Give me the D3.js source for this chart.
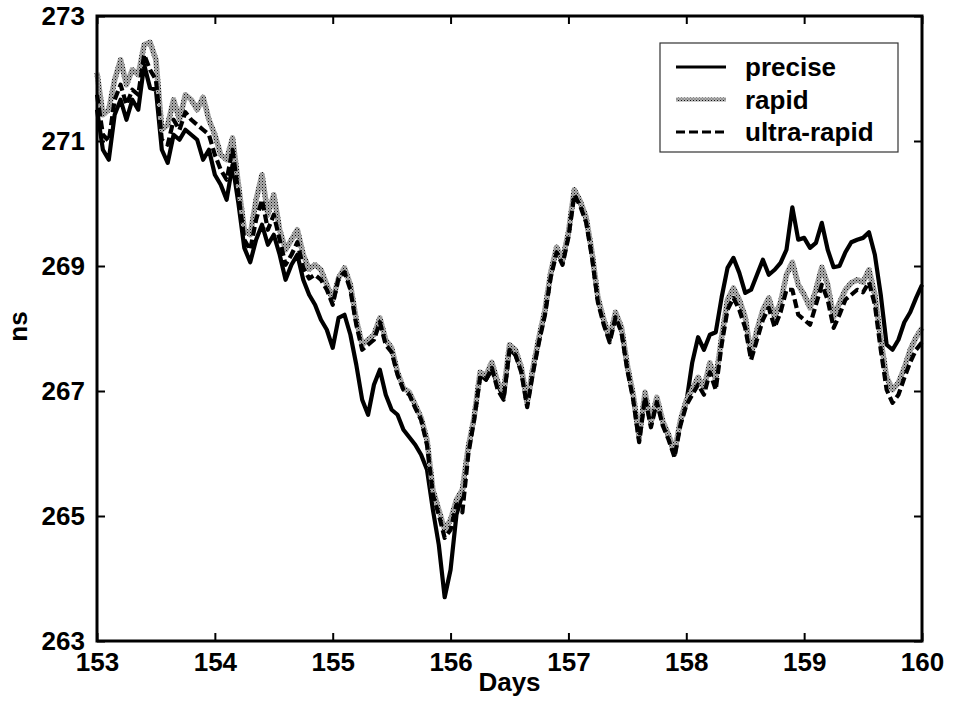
<!DOCTYPE html>
<html>
<head>
<meta charset="utf-8">
<script src="https://cdn.jsdelivr.net/npm/d3@7"></script>
<style>
     body { margin: 0; background: #fff; }
     svg { display: block; font-family: 'Liberation Sans', Arial, sans-serif; font-weight: bold; }
</style>
</head>
<body>
<svg id="clockSvg" width="954" height="701"></svg>
<script>
// sampling grid: one value every 0.05 day from day 153
var dayStart = 153, dayStep = 0.05;

var precise = [
     271.50, 270.86, 270.70, 271.42, 271.66, 271.34, 271.66, 271.50, 272.22, 271.85,
     271.82, 270.86, 270.65, 271.10, 271.02, 271.18, 271.10, 271.02, 270.70, 270.86,
     270.46, 270.30, 270.06, 270.62, 270.00, 269.29, 269.06, 269.42, 269.66, 269.34,
     269.50, 269.18, 268.78, 269.02, 269.18, 268.78, 268.54, 268.38, 268.14, 267.98,
     267.69, 268.17, 268.22, 267.90, 267.42, 266.86, 266.62, 267.10, 267.34, 266.94,
     266.70, 266.62, 266.38, 266.26, 266.14, 265.98, 265.74, 265.10, 264.54, 263.70,
     264.14, 265.02, 265.34, 266.06, 266.57, 267.26, 267.18, 267.34, 267.10, 266.90,
     267.66, 267.58, 267.34, 266.78, 267.34, 267.82, 268.25, 268.86, 269.26, 269.06,
     269.50, 270.18, 270.00, 269.74, 269.18, 268.46, 268.10, 267.82, 268.22, 267.98,
     267.37, 266.90, 266.22, 266.94, 266.46, 266.86, 266.49, 266.26, 265.98, 266.49,
     266.81, 267.45, 267.86, 267.66, 267.90, 267.94, 268.50, 268.97, 269.13, 268.89,
     268.57, 268.62, 268.86, 269.10, 268.86, 268.94, 269.05, 269.26, 269.94, 269.42,
     269.45, 269.29, 269.37, 269.69, 269.26, 268.98, 269.00, 269.22, 269.38, 269.42,
     269.45, 269.54, 269.18, 268.54, 267.74, 267.66, 267.82, 268.10, 268.26, 268.49,
     268.70
];

var rapid = [
     272.09, 271.42, 271.50, 271.98, 272.30, 271.90, 272.14, 272.06, 272.54, 272.58,
     272.30, 271.18, 271.26, 271.66, 271.34, 271.74, 271.66, 271.50, 271.70, 271.34,
     271.10, 270.78, 270.70, 271.05, 270.30, 269.58, 269.50, 270.06, 270.46, 269.82,
     270.14, 269.58, 269.26, 269.42, 269.58, 269.18, 268.95, 269.02, 268.94, 268.70,
     268.46, 268.81, 268.97, 268.70, 268.14, 267.74, 267.82, 267.90, 268.17, 267.82,
     267.69, 267.30, 267.05, 266.98, 266.78, 266.57, 266.22, 265.42, 265.10, 264.78,
     264.94, 265.26, 265.42, 266.10, 266.58, 267.30, 267.25, 267.46, 267.14, 266.98,
     267.74, 267.66, 267.38, 266.82, 267.38, 267.86, 268.29, 268.90, 269.30, 269.10,
     269.54, 270.22, 270.04, 269.78, 269.22, 268.50, 268.14, 267.86, 268.26, 268.02,
     267.41, 266.94, 266.26, 266.98, 266.50, 266.90, 266.52, 266.30, 266.02, 266.53,
     266.85, 267.02, 267.22, 267.05, 267.45, 267.18, 267.86, 268.46, 268.65, 268.46,
     268.18, 267.58, 267.98, 268.30, 268.49, 268.18, 268.42, 268.86, 269.06, 268.70,
     268.54, 268.33, 268.62, 268.98, 268.70, 268.18, 268.41, 268.62, 268.73, 268.78,
     268.74, 268.94, 268.54, 267.82, 267.22, 267.02, 267.13, 267.37, 267.66, 267.86,
     268.01
];

var ultraRapid = [
     271.74, 271.10, 271.00, 271.66, 271.90, 271.58, 271.82, 271.74, 272.38, 272.14,
     271.98, 271.02, 270.94, 271.34, 271.18, 271.46, 271.34, 271.26, 271.18, 271.10,
     270.78, 270.54, 270.38, 270.86, 270.15, 269.42, 269.26, 269.74, 270.06, 269.58,
     269.82, 269.42, 269.02, 269.18, 269.38, 268.97, 268.80, 268.86, 268.78, 268.62,
     268.38, 268.81, 268.90, 268.62, 268.06, 267.66, 267.74, 267.82, 268.10, 267.74,
     267.62, 267.26, 267.02, 266.94, 266.73, 266.54, 266.14, 265.34, 265.02, 264.65,
     264.78, 265.18, 265.06, 265.98, 266.54, 267.21, 267.18, 267.37, 267.02, 266.86,
     267.66, 267.58, 267.30, 266.74, 267.30, 267.78, 268.21, 268.82, 269.22, 269.02,
     269.46, 270.14, 269.96, 269.70, 269.14, 268.42, 268.06, 267.78, 268.18, 267.94,
     267.33, 266.86, 266.18, 266.90, 266.42, 266.82, 266.45, 266.22, 265.94, 266.45,
     266.77, 266.94, 267.10, 266.94, 267.30, 267.02, 267.74, 268.30, 268.49, 268.30,
     268.01, 267.50, 267.82, 268.14, 268.33, 268.02, 268.26, 268.62, 268.62, 268.22,
     268.14, 268.06, 268.38, 268.70, 268.46, 268.01, 268.22, 268.46, 268.54, 268.62,
     268.58, 268.74, 268.38, 267.66, 267.02, 266.81, 266.94, 267.21, 267.46, 267.66,
     267.78
];

var xTicks = [153, 154, 155, 156, 157, 158, 159, 160];
var yTicks = [263, 265, 267, 269, 271, 273];
var seriesNames = ['precise', 'rapid', 'ultra-rapid'];

var svg = d3.select('#clockSvg');
var margin = { top: 16, bottom: 60, left: 97, right: 32 };
var inner_width = 954 - margin.left - margin.right;
var inner_height = 701 - margin.top - margin.bottom;

var x_scale = d3.scaleLinear().domain([153, 160]).range([0, inner_width]);
var y_scale = d3.scaleLinear().domain([263, 273]).range([inner_height, 0]);

// halftone grey like the scanned "rapid" trace
var defs = svg.append('defs');
var pat = defs.append('pattern')
     .attr('id', 'dither')
     .attr('width', 3).attr('height', 3)
     .attr('patternUnits', 'userSpaceOnUse');
pat.append('rect').attr('width', 3).attr('height', 3).attr('fill', '#b0b0b0');
pat.append('rect').attr('x', 0).attr('y', 0).attr('width', 1).attr('height', 1).attr('fill', '#111');
pat.append('rect').attr('x', 1.5).attr('y', 1.5).attr('width', 1).attr('height', 1).attr('fill', '#444');

var g = svg.append('g')
     .attr('transform', 'translate(' + margin.left + ',' + margin.top + ')');

var line = d3.line()
     .x((d, i) => x_scale(dayStart + i * dayStep))
     .y(d => y_scale(d));

var styles = [
     { data: precise, stroke: '#000', width: 4.2, dash: null },
     { data: rapid, stroke: 'url(#dither)', width: 5.5, dash: null },
     { data: ultraRapid, stroke: '#000', width: 4.2, dash: '9,4' }
];

styles.forEach(s => {
     g.append('path')
          .datum(s.data)
          .attr('d', line)
          .attr('fill', 'none')
          .attr('stroke', s.stroke)
          .attr('stroke-width', s.width)
          .attr('stroke-linejoin', 'round')
          .attr('stroke-dasharray', s.dash);
});

// axes with inward ticks on all four sides (box style)
var x_axis = d3.axisBottom(x_scale).tickValues(xTicks).tickFormat(d3.format('d'))
     .tickSizeInner(-8).tickSizeOuter(0).tickPadding(14);
var x_axis_top = d3.axisTop(x_scale).tickValues(xTicks).tickSizeInner(-8).tickSizeOuter(0).tickFormat('');
var y_axis = d3.axisLeft(y_scale).tickValues(yTicks).tickFormat(d3.format('d'))
     .tickSizeInner(-8).tickSizeOuter(0).tickPadding(12);
var y_axis_right = d3.axisRight(y_scale).tickValues(yTicks).tickSizeInner(-8).tickSizeOuter(0).tickFormat('');

var gx = g.append('g').attr('transform', 'translate(0,' + inner_height + ')').call(x_axis);
g.append('g').call(x_axis_top);
var gy = g.append('g').call(y_axis);
g.append('g').attr('transform', 'translate(' + inner_width + ',0)').call(y_axis_right);

g.selectAll('.domain').remove();
g.selectAll('.tick line').attr('stroke', '#000').attr('stroke-width', 2);
gx.selectAll('text').style('font-size', '26px').style('font-weight', 'bold').attr('fill', '#000').attr('dy', '0.6em');
gy.selectAll('text').style('font-size', '26px').style('font-weight', 'bold').attr('fill', '#000').attr('dy', '0.32em');

g.append('rect')
     .attr('width', inner_width)
     .attr('height', inner_height)
     .attr('fill', 'none')
     .attr('stroke', '#000')
     .attr('stroke-width', 3);

g.append('text')
     .attr('x', inner_width / 2)
     .attr('y', inner_height + 50)
     .style('text-anchor', 'middle')
     .style('font-size', '26px')
     .text('Days');

g.append('text')
     .attr('transform', 'rotate(-90)')
     .attr('x', -inner_height / 2 + 2)
     .attr('y', -70)
     .style('text-anchor', 'middle')
     .style('font-size', '26px')
     .text('ns');

// legend
var legend = g.append('g').attr('transform', 'translate(' + (660 - margin.left) + ',' + (43 - margin.top) + ')');
legend.append('rect')
     .attr('width', 238)
     .attr('height', 109)
     .attr('fill', '#fff')
     .attr('stroke', '#333')
     .attr('stroke-width', 1.2);

seriesNames.forEach((name, i) => {
     var yy = 24 + i * 32.5;
     legend.append('line')
          .attr('x1', 16).attr('x2', 66)
          .attr('y1', yy).attr('y2', yy)
          .attr('stroke', styles[i].stroke)
          .attr('stroke-width', i === 1 ? 4 : 3)
          .attr('stroke-dasharray', styles[i].dash);
     legend.append('text')
          .attr('x', 85)
          .attr('y', yy + 9)
          .style('font-size', '26px')
          .text(name);
});
</script>
</body>
</html>
